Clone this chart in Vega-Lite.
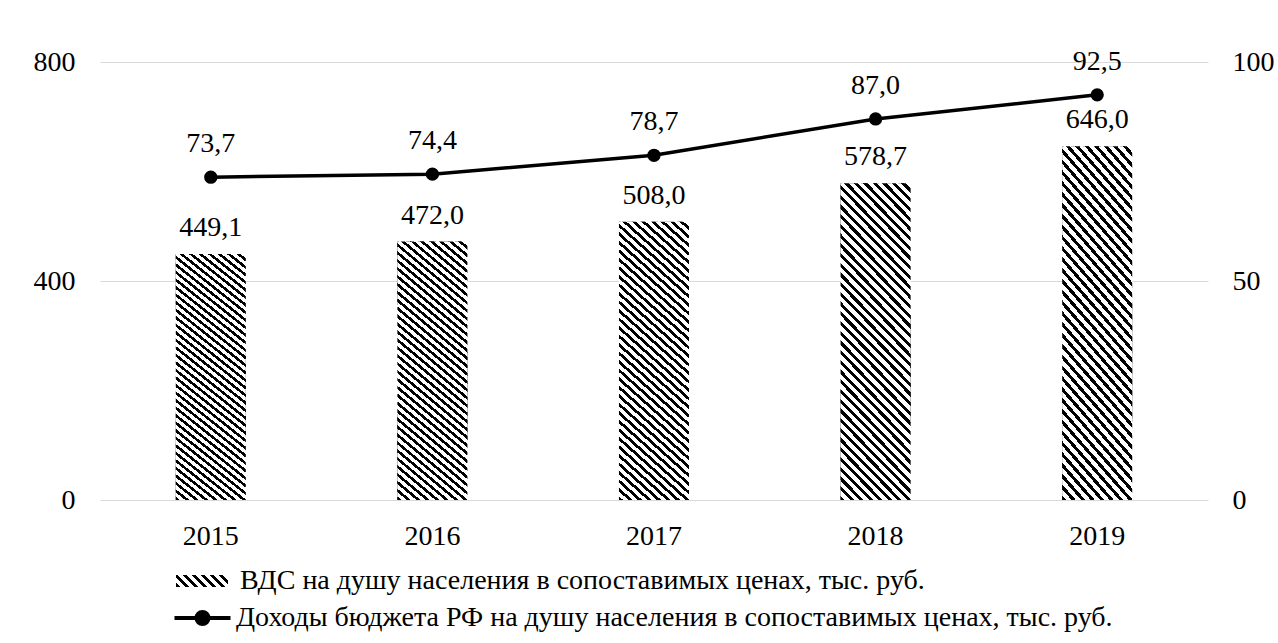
{
  "$schema": "https://vega.github.io/schema/vega-lite/v6.json",
  "width": 1108,
  "height": 438,
  "autosize": {"type": "none"},
  "padding": {"left": 100, "top": 62, "right": 70, "bottom": 143},
  "background": "#ffffff",
  "config": {
    "view": {"stroke": null},
    "font": "Liberation Serif, Tinos, DejaVu Serif, serif",
    "locale": {"number": {"decimal": ",", "thousands": " ", "grouping": [3], "currency": ["", ""]}},
    "axis": {"labelFont": "Liberation Serif, Tinos, DejaVu Serif, serif", "labelFontSize": 28, "labelColor": "#000000", "domain": false, "ticks": false, "title": null},
    "legend": {"labelFont": "Liberation Serif, Tinos, DejaVu Serif, serif", "labelFontSize": 28, "labelColor": "#000000", "padding": 0, "title": null, "labelLimit": 2000}
  },
  "data": {
    "values": [
      {"year": "2015", "vds": 449.1, "income": 73.7},
      {"year": "2016", "vds": 472.0, "income": 74.4},
      {"year": "2017", "vds": 508.0, "income": 78.7},
      {"year": "2018", "vds": 578.7, "income": 87.0},
      {"year": "2019", "vds": 646.0, "income": 92.5}
    ]
  },
  "encoding": {
    "x": {"field": "year", "type": "ordinal", "scale": {"paddingInner": 0.684, "paddingOuter": 0.342},
      "axis": {"labelAngle": 0, "labelPadding": 22, "grid": false}}
  },
  "layer": [
    {
      "encoding": {
        "y": {"field": "vds", "type": "quantitative", "scale": {"domain": [0, 800]},
          "axis": {"orient": "left", "values": [0, 400, 800], "grid": true, "gridColor": "#d9d9d9", "gridWidth": 1, "labelPadding": 25}}
      },
      "layer": [
        {
          "mark": {"type": "bar", "opacity": 0, "strokeWidth": 0, "fill": {"gradient": "linear", "x1": 0, "y1": 1, "x2": 1.1685, "y2": 0.7303, "stops": [
                {"offset":0,"color":"#000"},{"offset":0.064,"color":"#000"},{"offset":0.064,"color":"#fff"},{"offset":0.143,"color":"#fff"},
                {"offset":0.143,"color":"#000"},{"offset":0.207,"color":"#000"},{"offset":0.207,"color":"#fff"},{"offset":0.286,"color":"#fff"},
                {"offset":0.286,"color":"#000"},{"offset":0.35,"color":"#000"},{"offset":0.35,"color":"#fff"},{"offset":0.429,"color":"#fff"},
                {"offset":0.429,"color":"#000"},{"offset":0.493,"color":"#000"},{"offset":0.493,"color":"#fff"},{"offset":0.571,"color":"#fff"},
                {"offset":0.571,"color":"#000"},{"offset":0.635,"color":"#000"},{"offset":0.635,"color":"#fff"},{"offset":0.714,"color":"#fff"},
                {"offset":0.714,"color":"#000"},{"offset":0.778,"color":"#000"},{"offset":0.778,"color":"#fff"},{"offset":0.857,"color":"#fff"},
                {"offset":0.857,"color":"#000"},{"offset":0.921,"color":"#000"},{"offset":0.921,"color":"#fff"},{"offset":1,"color":"#fff"}
              ]}},
          "encoding": {
            "opacity": {"datum": "ВДС на душу населения в сопоставимых ценах, тыс. руб.", "type": "nominal",
              "scale": {"range": [0]},
              "legend": {"orient": "none", "legendX": 88, "legendY": 505, "symbolType": "M-2.6,-0.6H2.6V0.6H-2.6Z", "symbolSize": 400, "symbolOpacity": 1, "symbolStrokeWidth": 0, "labelOffset": 24,
                "encode": {"symbols": {"update": {"opacity": {"value": 1}, "strokeWidth": {"value": 0}}}}}
            }
          }
        },
        {
          "mark": {"type": "bar", "strokeWidth": 0, "color": {"gradient": "linear", "x1": 0, "y1": 1, "x2": 0.2634, "y2": -0.1664, "stops": [
            {"offset":0,"color":"#000"},{"offset":0.011,"color":"#000"},{"offset":0.011,"color":"#fff"},{"offset":0.025,"color":"#fff"},
            {"offset":0.025,"color":"#000"},{"offset":0.036,"color":"#000"},{"offset":0.036,"color":"#fff"},{"offset":0.05,"color":"#fff"},
            {"offset":0.05,"color":"#000"},{"offset":0.061,"color":"#000"},{"offset":0.061,"color":"#fff"},{"offset":0.075,"color":"#fff"},
            {"offset":0.075,"color":"#000"},{"offset":0.086,"color":"#000"},{"offset":0.086,"color":"#fff"},{"offset":0.1,"color":"#fff"},
            {"offset":0.1,"color":"#000"},{"offset":0.111,"color":"#000"},{"offset":0.111,"color":"#fff"},{"offset":0.125,"color":"#fff"},
            {"offset":0.125,"color":"#000"},{"offset":0.136,"color":"#000"},{"offset":0.136,"color":"#fff"},{"offset":0.15,"color":"#fff"},
            {"offset":0.15,"color":"#000"},{"offset":0.161,"color":"#000"},{"offset":0.161,"color":"#fff"},{"offset":0.175,"color":"#fff"},
            {"offset":0.175,"color":"#000"},{"offset":0.186,"color":"#000"},{"offset":0.186,"color":"#fff"},{"offset":0.2,"color":"#fff"},
            {"offset":0.2,"color":"#000"},{"offset":0.211,"color":"#000"},{"offset":0.211,"color":"#fff"},{"offset":0.225,"color":"#fff"},
            {"offset":0.225,"color":"#000"},{"offset":0.236,"color":"#000"},{"offset":0.236,"color":"#fff"},{"offset":0.25,"color":"#fff"},
            {"offset":0.25,"color":"#000"},{"offset":0.261,"color":"#000"},{"offset":0.261,"color":"#fff"},{"offset":0.275,"color":"#fff"},
            {"offset":0.275,"color":"#000"},{"offset":0.286,"color":"#000"},{"offset":0.286,"color":"#fff"},{"offset":0.3,"color":"#fff"},
            {"offset":0.3,"color":"#000"},{"offset":0.311,"color":"#000"},{"offset":0.311,"color":"#fff"},{"offset":0.325,"color":"#fff"},
            {"offset":0.325,"color":"#000"},{"offset":0.336,"color":"#000"},{"offset":0.336,"color":"#fff"},{"offset":0.35,"color":"#fff"},
            {"offset":0.35,"color":"#000"},{"offset":0.361,"color":"#000"},{"offset":0.361,"color":"#fff"},{"offset":0.375,"color":"#fff"},
            {"offset":0.375,"color":"#000"},{"offset":0.386,"color":"#000"},{"offset":0.386,"color":"#fff"},{"offset":0.4,"color":"#fff"},
            {"offset":0.4,"color":"#000"},{"offset":0.411,"color":"#000"},{"offset":0.411,"color":"#fff"},{"offset":0.425,"color":"#fff"},
            {"offset":0.425,"color":"#000"},{"offset":0.436,"color":"#000"},{"offset":0.436,"color":"#fff"},{"offset":0.45,"color":"#fff"},
            {"offset":0.45,"color":"#000"},{"offset":0.461,"color":"#000"},{"offset":0.461,"color":"#fff"},{"offset":0.475,"color":"#fff"},
            {"offset":0.475,"color":"#000"},{"offset":0.486,"color":"#000"},{"offset":0.486,"color":"#fff"},{"offset":0.5,"color":"#fff"},
            {"offset":0.5,"color":"#000"},{"offset":0.511,"color":"#000"},{"offset":0.511,"color":"#fff"},{"offset":0.525,"color":"#fff"},
            {"offset":0.525,"color":"#000"},{"offset":0.536,"color":"#000"},{"offset":0.536,"color":"#fff"},{"offset":0.55,"color":"#fff"},
            {"offset":0.55,"color":"#000"},{"offset":0.561,"color":"#000"},{"offset":0.561,"color":"#fff"},{"offset":0.575,"color":"#fff"},
            {"offset":0.575,"color":"#000"},{"offset":0.586,"color":"#000"},{"offset":0.586,"color":"#fff"},{"offset":0.6,"color":"#fff"},
            {"offset":0.6,"color":"#000"},{"offset":0.611,"color":"#000"},{"offset":0.611,"color":"#fff"},{"offset":0.625,"color":"#fff"},
            {"offset":0.625,"color":"#000"},{"offset":0.636,"color":"#000"},{"offset":0.636,"color":"#fff"},{"offset":0.65,"color":"#fff"},
            {"offset":0.65,"color":"#000"},{"offset":0.661,"color":"#000"},{"offset":0.661,"color":"#fff"},{"offset":0.675,"color":"#fff"},
            {"offset":0.675,"color":"#000"},{"offset":0.686,"color":"#000"},{"offset":0.686,"color":"#fff"},{"offset":0.7,"color":"#fff"},
            {"offset":0.7,"color":"#000"},{"offset":0.711,"color":"#000"},{"offset":0.711,"color":"#fff"},{"offset":0.725,"color":"#fff"},
            {"offset":0.725,"color":"#000"},{"offset":0.736,"color":"#000"},{"offset":0.736,"color":"#fff"},{"offset":0.75,"color":"#fff"},
            {"offset":0.75,"color":"#000"},{"offset":0.761,"color":"#000"},{"offset":0.761,"color":"#fff"},{"offset":0.775,"color":"#fff"},
            {"offset":0.775,"color":"#000"},{"offset":0.786,"color":"#000"},{"offset":0.786,"color":"#fff"},{"offset":0.8,"color":"#fff"},
            {"offset":0.8,"color":"#000"},{"offset":0.811,"color":"#000"},{"offset":0.811,"color":"#fff"},{"offset":0.825,"color":"#fff"},
            {"offset":0.825,"color":"#000"},{"offset":0.836,"color":"#000"},{"offset":0.836,"color":"#fff"},{"offset":0.85,"color":"#fff"},
            {"offset":0.85,"color":"#000"},{"offset":0.861,"color":"#000"},{"offset":0.861,"color":"#fff"},{"offset":0.875,"color":"#fff"},
            {"offset":0.875,"color":"#000"},{"offset":0.886,"color":"#000"},{"offset":0.886,"color":"#fff"},{"offset":0.9,"color":"#fff"},
            {"offset":0.9,"color":"#000"},{"offset":0.911,"color":"#000"},{"offset":0.911,"color":"#fff"},{"offset":0.925,"color":"#fff"},
            {"offset":0.925,"color":"#000"},{"offset":0.936,"color":"#000"},{"offset":0.936,"color":"#fff"},{"offset":0.95,"color":"#fff"},
            {"offset":0.95,"color":"#000"},{"offset":0.961,"color":"#000"},{"offset":0.961,"color":"#fff"},{"offset":0.975,"color":"#fff"},
            {"offset":0.975,"color":"#000"},{"offset":0.986,"color":"#000"},{"offset":0.986,"color":"#fff"},{"offset":1,"color":"#fff"}
          ]}}
        },
        {
          "mark": {"type": "text", "baseline": "alphabetic", "dy": -18, "fontSize": 28, "font": "Liberation Serif, Tinos, DejaVu Serif, serif", "color": "#000000"},
          "encoding": {"text": {"field": "vds", "type": "quantitative", "format": ".1f"}}
        }
      ]
    },
    {
      "encoding": {
        "y": {"field": "income", "type": "quantitative", "scale": {"domain": [0, 100]},
          "axis": {"orient": "right", "values": [0, 50, 100], "grid": false, "labelPadding": 24, "labelAlign": "left"}}
      },
      "layer": [
        {
          "mark": {"type": "line", "strokeWidth": 3.5},
          "encoding": {
            "stroke": {"datum": "Доходы бюджета РФ на душу населения в сопоставимых ценах, тыс. руб.", "type": "nominal",
              "scale": {"range": ["#000000"]},
              "legend": {"orient": "none", "legendX": 88.5, "legendY": 542, "symbolType": "M-2.8,0H2.8M-0.6,0A0.6,0.6,0,1,1,0.6,0A0.6,0.6,0,1,1,-0.6,0Z", "symbolSize": 400, "symbolStrokeWidth": 4, "symbolFillColor": "#000000", "labelOffset": 19.5,
                "encode": {"symbols": {"update": {"fill": {"value": "#000000"}, "stroke": {"value": "#000000"}, "strokeWidth": {"value": 4}}}}}
            }
          }
        },
        {
          "mark": {"type": "point", "filled": true, "shape": "circle", "size": 177, "color": "#000000", "opacity": 1}
        },
        {
          "mark": {"type": "text", "baseline": "alphabetic", "dy": -25, "fontSize": 28, "font": "Liberation Serif, Tinos, DejaVu Serif, serif", "color": "#000000"},
          "encoding": {"text": {"field": "income", "type": "quantitative", "format": ".1f"}}
        }
      ]
    }
  ],
  "resolve": {"scale": {"y": "independent"}}
}
